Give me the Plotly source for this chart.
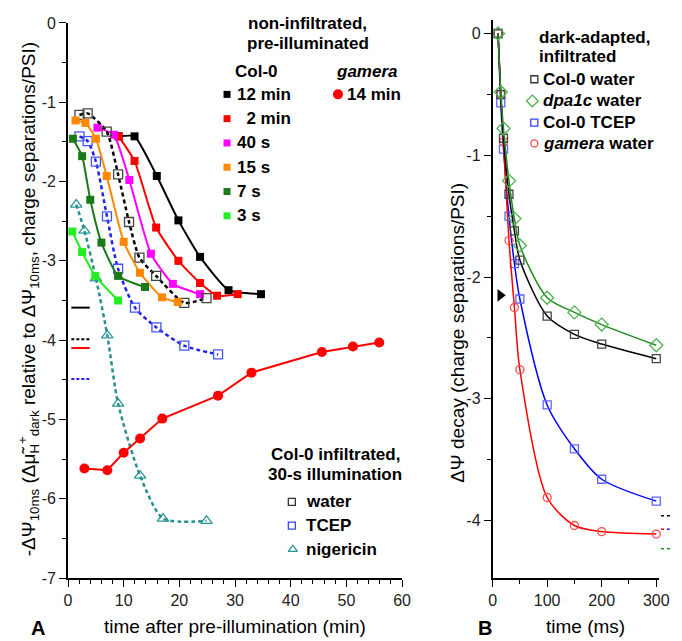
import plotly.graph_objects as go

# ---------------- Panel A data (time after pre-illumination, min ; -dPsi10ms) ----------------
col12_t = [9.1, 11.95, 15.95, 19.83, 23.72, 28.83, 34.66]
col12_v = [-1.43, -1.43, -1.93, -2.49, -2.95, -3.37, -3.42]
col2m_t = [9.1, 11.95, 15.83, 19.83, 23.72, 26.77, 30.47]
col2m_v = [-1.43, -1.74, -2.58, -3.00, -3.28, -3.44, -3.42]
col40_t = [5.29, 8.24, 11.01, 14.89, 18.83, 23.72]
col40_v = [-1.32, -1.41, -1.98, -2.91, -3.29, -3.42]
col15_t = [1.36, 3.12, 5.01, 6.95, 10.0, 12.92, 16.89, 19.71]
col15_v = [-1.23, -1.26, -1.46, -1.93, -2.76, -3.15, -3.46, -3.52]
col7_t = [0.88, 2.54, 4.0, 6.0, 9.0, 13.83]
col7_v = [-1.46, -1.68, -2.23, -2.77, -3.19, -3.33]
col3_t = [0.78, 2.54, 4.89, 9.0]
col3_v = [-2.63, -2.89, -3.19, -3.50]
gam14_t = [2.95, 7.06, 10.0, 12.95, 16.94, 26.95, 32.95, 45.6, 51.17, 55.9]
gam14_v = [-5.62, -5.64, -5.42, -5.24, -4.99, -4.70, -4.41, -4.15, -4.08, -4.03]
water_t = [2.06, 3.53, 6.95, 9.0, 10.96, 12.83, 15.83, 20.89, 24.88]
water_v = [-1.16, -1.14, -1.37, -1.91, -2.51, -2.96, -3.19, -3.53, -3.47]
tcep_t = [2.06, 3.53, 5.01, 7.0, 9.0, 12.03, 15.88, 20.89, 26.95]
tcep_v = [-1.43, -1.49, -1.75, -2.44, -3.10, -3.59, -3.84, -4.07, -4.18]
nig_t = [1.48, 2.95, 5.01, 7.06, 9.0, 12.95, 17.06, 24.88]
nig_v = [-2.29, -2.62, -3.22, -3.94, -4.80, -5.71, -6.25, -6.28]
# dark reference levels drawn as short bars at the left of panel A
refA_levels = [-3.59, -3.99, -4.10, -4.49]
refA_colors = ["black", "black", "#ff0000", "#2222ee"]
refA_dash = ["solid", "dot", "solid", "dot"]

# ---------------- Panel B data (time, ms ; dPsi decay) ----------------
tB = [10, 15, 20, 30, 40, 50, 100, 150, 200, 300]
colw_v = [0.0, -0.50, -0.86, -1.32, -1.62, -1.86, -2.32, -2.47, -2.55, -2.67]
dpa_v = [0.0, -0.48, -0.78, -1.21, -1.52, -1.74, -2.17, -2.29, -2.39, -2.56]
tcepB_v = [0.0, -0.57, -0.95, -1.50, -1.89, -2.18, -3.05, -3.41, -3.66, -3.84]
gamw_v = [0.0, -0.50, -0.89, -1.70, -2.25, -2.76, -3.81, -4.04, -4.09, -4.11]
arrow_t = [14]
arrow_v = [-2.15]
refB_levels = [-3.96, -4.07, -4.07, -4.23]
refB_colors = ["black", "#ff0000", "#2222ee", "#1e8c1e"]

# tick labels
xA_ticks = [0, 10, 20, 30, 40, 50, 60]
yA_ticks = [0, -1, -2, -3, -4, -5, -6, -7]
xB_ticks = [0, 100, 200, 300]
yB_ticks = [0, -1, -2, -3, -4]

FONT = "Liberation Sans, Arial, sans-serif"
W, H = 682, 641
ML, MR, MT, MB = 68, 12, 13, 63
PW, PH = W - ML - MR, H - MT - MB


def px(x):
    return (x - ML) / PW


def py(y):
    return (H - MB - y) / PH


fig = go.Figure()


def line_marker(x, y, color, symbol, size, dash="solid", lw=2, shape="spline", smooth=0.5,
                mcolor=None, axes=("x", "y"), mlw=1.3):
    mc = mcolor or color
    is_open = symbol.endswith("-open")
    fig.add_trace(go.Scatter(
        x=x, y=y, mode="lines+markers", xaxis=axes[0], yaxis=axes[1],
        line=dict(color=color, width=lw, dash=dash, shape=shape, smoothing=smooth),
        marker=dict(symbol=symbol, size=size, color=mc,
                    line=dict(color=mc, width=mlw if is_open else 0)),
        cliponaxis=False, showlegend=False))


# Panel A traces (back to front)
line_marker(nig_t, nig_v, "#2a8f8f", "triangle-up-open", 10, dash="4px,3px", lw=2.5, smooth=0.7, mcolor="#2a9595")
line_marker(tcep_t, tcep_v, "#2222ee", "square-open", 9, dash="4px,3px", lw=2.5, smooth=0.7, mcolor="#4455ff")
line_marker(col12_t, col12_v, "black", "square", 8)
line_marker(col2m_t, col2m_v, "#ff0000", "square", 8)
line_marker(col40_t, col40_v, "#ff00ff", "square", 8)
line_marker(water_t, water_v, "black", "square-open", 9, dash="4px,3px", lw=2.5, smooth=0.6, mcolor="#444444")
line_marker(col15_t, col15_v, "#ff8800", "square", 8)
line_marker(col7_t, col7_v, "#1a7a1a", "square", 8)
line_marker(col3_t, col3_v, "#22ee22", "square", 8)
line_marker(gam14_t, gam14_v, "#ff0000", "circle", 10, shape="linear")

# Panel B traces
line_marker(tB, tcepB_v, "#0000ff", "square-open", 8, lw=1.5, smooth=0.8, mcolor="#5a66ff", axes=("x2", "y2"))
line_marker(tB, gamw_v, "#ff0000", "circle-open", 8, lw=1.5, smooth=0.8, mcolor="#ff4a4a", axes=("x2", "y2"))
line_marker(tB, colw_v, "black", "square-open", 8, lw=1.5, smooth=0.8, mcolor="#444444", axes=("x2", "y2"))
line_marker(tB, dpa_v, "#1e8c1e", "diamond-open", 10, lw=1.5, smooth=0.8, mcolor="#52b052", axes=("x2", "y2"))
fig.add_trace(go.Scatter(x=arrow_t, y=arrow_v, mode="markers", xaxis="x2", yaxis="y2",
                         marker=dict(symbol="triangle-right", size=11, color="black"),
                         cliponaxis=False, showlegend=False))

shapes = []
for lev, c, d in zip(refA_levels, refA_colors, refA_dash):
    shapes.append(dict(type="line", xref="x", yref="y", x0=0.6, x1=3.9, y0=lev, y1=lev,
                       line=dict(color=c, width=2, dash="3px,2px" if d == "dot" else "solid")))
for i, (lev, c) in enumerate(zip(refB_levels, refB_colors)):
    x0 = 672 if i != 2 else 678
    x1 = 676 if i == 1 else 682
    shapes.append(dict(type="line", xref="paper", yref="y2", x0=px(x0), x1=px(x1), y0=lev, y1=lev,
                       line=dict(color=c, width=1.5, dash="3px,3px")))

# ---------- legend keys (separate full-size pixel axes) ----------
def key(x, y, symbol, color, size):
    is_open = symbol.endswith("-open")
    fig.add_trace(go.Scatter(x=[x], y=[y], mode="markers", xaxis="x3", yaxis="y3",
                             marker=dict(symbol=symbol, size=size, color=color,
                                         line=dict(color=color, width=1.3 if is_open else 0)),
                             cliponaxis=False, showlegend=False, hoverinfo="skip"))

ann = []
LEG = 17
def text(x, y, s, size=LEG, bold=True, anchor="left", angle=0, color="black"):
    ann.append(dict(x=px(x), y=py(y), xref="paper", yref="paper", text=("<b>%s</b>" % s) if bold else s,
                    showarrow=False, xanchor=anchor, yanchor="middle", textangle=angle,
                    font=dict(family=FONT, size=size, color=color)))

text(312, 17, "non-infiltrated,", anchor="center")
text(312, 37, "pre-illuminated", anchor="center")
text(260.5, 65, "Col-0", anchor="center")
text(372.5, 65, "<i>gamera</i>", anchor="center")
rowsA = [("12 min", "black"), ("&#160;&#160;2 min", "#ff0000"), ("40 s", "#ff00ff"),
         ("15 s", "#ff8800"), ("7 s", "#1a7a1a"), ("3 s", "#22ee22")]
for i, (lab, c) in enumerate(rowsA):
    yy = 88.3 + i * 24.6
    key(230, yy, "square", c, 7)
    text(238, yy, lab)
key(343, 88.3, "circle", "#ff0000", 10)
text(350, 88.3, "14 min")

text(340, 453, "Col-0 infiltrated,", anchor="center")
text(340, 473, "30-s illumination", anchor="center")
key(296, 501, "square-open", "#333333", 7)
text(308, 501, "water")
key(296, 525, "square-open", "#3344ff", 7)
text(308, 525, "TCEP")
key(297, 549, "triangle-up-open", "#2a9595", 8)
text(308, 549, "nigericin")

text(546, 31, "dark-adapted,")
text(546, 50, "infiltrated")
key(543, 73, "square-open", "#333333", 7)
text(550, 73, "Col-0 water")
key(541, 95, "diamond-open", "#52b052", 9)
text(550, 95, "<i>dpa1c</i> water")
key(543, 117, "square-open", "#3344ff", 7)
text(550, 117, "Col-0 TCEP")
key(543, 138, "circle-open", "#ff4a4a", 7)
text(550, 138, "<i>gamera</i> water")

# axis titles / panel letters
TIT = 19
text(238, 627, "time after pre-illumination (min)", size=TIT, bold=False, anchor="center")
text(595, 627, "time (ms)", size=TIT, bold=False, anchor="center")
text(37, 629, "A", size=20, anchor="center")
text(493, 629, "B", size=20, anchor="center")
text(28, 296, "-ΔΨ<sub>10ms</sub> (Δμ̃<sub>H</sub><sup>+</sup><sub>dark</sub> relative to ΔΨ<sub>10ms</sub>, charge separations/PSI)",
     size=TIT, bold=False, anchor="center", angle=-90)
text(464, 330, "ΔΨ decay (charge separations/PSI)", size=TIT, bold=False, anchor="center", angle=-90)

axis_common = dict(showgrid=False, zeroline=False, showline=True, linecolor="black", linewidth=1.6,
                   ticks="outside", ticklen=7, tickwidth=1.4, tickcolor="black",
                   tickfont=dict(family=FONT, size=16, color="#222222"))
minor_common = dict(ticks="outside", ticklen=4, tickwidth=1.3, tickcolor="black")

yA_top = (H - MB - 16) / PH
fig.update_layout(
    width=W, height=H, margin=dict(l=ML, r=MR, t=MT, b=MB),
    paper_bgcolor="white", plot_bgcolor="rgba(0,0,0,0)", showlegend=False,
    xaxis=dict(domain=[0, px(408.3)], range=[0, 60], tickvals=xA_ticks,
               ticktext=[str(v) for v in xA_ticks], minor=dict(dtick=2, **minor_common),
               anchor="y", **axis_common),
    yaxis=dict(domain=[0, yA_top], range=[-7, 0], tickvals=yA_ticks,
               ticktext=[str(v) for v in yA_ticks], minor=dict(dtick=0.5, **minor_common),
               anchor="x", **axis_common),
    xaxis2=dict(domain=[px(500.5), 1], range=[0, 305], tickvals=xB_ticks,
                ticktext=[str(v) for v in xB_ticks], minor=dict(dtick=50, **minor_common),
                anchor="y2", **axis_common),
    yaxis2=dict(domain=[0, 1], range=[-4.471, 0.111], tickvals=yB_ticks,
                ticktext=[str(v) for v in yB_ticks], minor=dict(dtick=0.5, **minor_common),
                anchor="x2", **axis_common),
    xaxis3=dict(domain=[0, 1], range=[ML, W - MR], visible=False, anchor="y3"),
    yaxis3=dict(domain=[0, 1], range=[H - MB, MT], visible=False, anchor="x3"),
    shapes=shapes, annotations=ann,
)

fig.write_html("out.html", config={"displayModeBar": False},
               post_script="document.body.style.margin='0px';document.body.style.overflow='hidden';")
